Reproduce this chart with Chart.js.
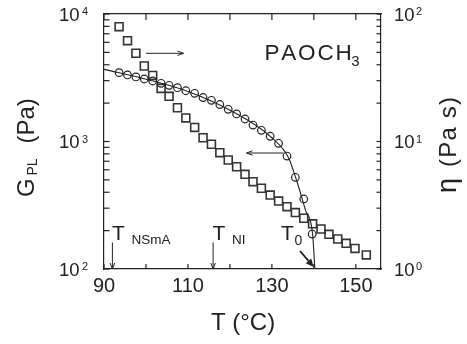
<!DOCTYPE html>
<html>
<head>
<meta charset="utf-8">
<script src="https://cdn.jsdelivr.net/npm/chart.js"></script>
<style>
  body{margin:0;background:#fff;}
</style>
</head>
<body>
<canvas id="myChart" width="467" height="344"></canvas>
<script>
// viscosity eta (Pa s), squares, right axis
const tempEta = [93.6, 95.6, 97.6, 99.6, 101.6, 103.6, 105.5, 107.5, 109.5, 111.6, 113.6, 115.6, 117.6, 119.6, 121.6,
                 123.6, 125.5, 127.5, 129.6, 131.6, 133.6, 135.6, 137.6, 139.7, 141.7, 143.6, 145.7, 147.7, 149.8, 152.5];
const eta = [79.5, 61.8, 49.2, 39.1, 33.0, 26.1, 22.6, 18.4, 15.3, 12.9, 10.7, 9.51, 8.17, 7.16, 6.34,
             5.53, 4.84, 4.30, 3.80, 3.41, 3.08, 2.77, 2.50, 2.26, 2.06, 1.87, 1.72, 1.59, 1.45, 1.29];

// plateau modulus G_PL (Pa), circles, left axis
const tempG = [93.6, 95.6, 97.6, 99.6, 101.6, 103.6, 105.5, 107.5, 109.5, 111.6, 113.6, 115.6,
               117.6, 119.6, 121.6, 123.6, 125.5, 127.5, 129.6, 131.6, 133.6, 135.6, 137.6, 139.6];
const gPL = [3467, 3325, 3208, 3092, 2983, 2860, 2760, 2643, 2500, 2387, 2213, 2104,
             1950, 1789, 1645, 1501, 1346, 1224, 1099, 968, 769, 524, 354, 188];

// fitted curve through G_PL
const fitT = [90, 100, 110, 120, 130, 134, 136, 138, 139.7, 140.24];
const fitG = [3680, 3080, 2470, 1760, 1070, 743, 481, 290, 188, 100];

// axes
const xTicks = [90, 100, 110, 120, 130, 140, 150];
const xLabels = [90, 110, 130, 150];
const leftExp = [2, 3, 4];
const rightExp = [0, 1, 2];

// transition temperatures
const tNSmA = 92, tNI = 116, t0 = 140.2;

const ink = '#222';
const fam = '"Liberation Sans", Arial, sans-serif';

function line(ctx, x1, y1, x2, y2) {
  ctx.beginPath();
  ctx.moveTo(x1, y1);
  ctx.lineTo(x2, y2);
  ctx.stroke();
}

// open arrow head for thin arrows, filled for the thick one
function arrow(ctx, x1, y1, x2, y2, len, half, width, filled) {
  const a = Math.atan2(y2 - y1, x2 - x1);
  const bx = x2 - len * Math.cos(a), by = y2 - len * Math.sin(a);
  const px = -Math.sin(a) * half, py = Math.cos(a) * half;
  ctx.lineWidth = width;
  if (filled) {
    line(ctx, x1, y1, bx, by);
    ctx.beginPath();
    ctx.moveTo(x2, y2);
    ctx.lineTo(bx + px, by + py);
    ctx.lineTo(bx - px, by - py);
    ctx.closePath();
    ctx.fill();
  } else {
    line(ctx, x1, y1, x2, y2);
    ctx.beginPath();
    ctx.moveTo(bx + px, by + py);
    ctx.lineTo(x2, y2);
    ctx.lineTo(bx - px, by - py);
    ctx.stroke();
  }
}

// text with manual letter spacing (left aligned when spacing is used), returns end x
function text(ctx, s, x, y, size, spacing) {
  ctx.font = size + 'px ' + fam;
  if (!spacing) {
    ctx.fillText(s, x, y);
    return x + ctx.measureText(s).width;
  }
  for (const ch of s) {
    ctx.fillText(ch, x, y);
    x += ctx.measureText(ch).width + spacing;
  }
  return x - spacing;
}

const decor = {
  id: 'decor',
  afterDraw(chart) {
    const ctx = chart.ctx;
    const {left, right, top, bottom} = chart.chartArea;
    const xs = chart.scales.x, yl = chart.scales.y, yr = chart.scales.y2;
    ctx.save();
    ctx.strokeStyle = ink;
    ctx.fillStyle = ink;
    ctx.lineWidth = 1.2;
    ctx.textBaseline = 'alphabetic';

    // inward ticks, bottom and top
    xTicks.forEach(v => {
      const px = xs.getPixelForValue(v);
      line(ctx, px, bottom, px, bottom - 5);
      line(ctx, px, top, px, top + 6);
    });
    // inward ticks, log axes
    [[yl, leftExp, left, 5.5], [yr, rightExp, right, -4.5]].forEach(([sc, exps, x0, len]) => {
      for (let i = 0; i < exps.length; i++) {
        const d = Math.pow(10, exps[i]);
        const ks = i < exps.length - 1 ? [1, 2, 3, 4, 5, 6, 7, 8, 9] : [1];
        ks.forEach(k => {
          const py = sc.getPixelForValue(d * k);
          line(ctx, x0, py, x0 + len, py);
        });
      }
    });

    // tick labels
    ctx.textAlign = 'center';
    xLabels.forEach(v => text(ctx, String(v), xs.getPixelForValue(v), bottom + 22.5, 20));
    ctx.textAlign = 'left';
    leftExp.forEach(e => {
      const py = yl.getPixelForValue(Math.pow(10, e));
      text(ctx, '10', left - 45, py + 6.6, 18.5);
      text(ctx, String(e), left - 22, py + 1.2, 11);
    });
    rightExp.forEach(e => {
      const py = yr.getPixelForValue(Math.pow(10, e));
      text(ctx, '10', right + 13, py + 6.6, 18.5);
      text(ctx, String(e), right + 35, py + 1.2, 11);
    });

    // axis titles
    ctx.textAlign = 'center';
    text(ctx, 'T (\u00B0C)', (left + right) / 2 + 0.5, bottom + 60.5, 24);

    ctx.textAlign = 'left';
    ctx.save();
    ctx.translate(34, 148.5);
    ctx.rotate(-Math.PI / 2);
    text(ctx, 'G', -48.5, 0, 24);
    text(ctx, 'PL', -27, 3, 14);
    text(ctx, '(Pa)', 5, 0, 24);
    ctx.restore();

    ctx.save();
    ctx.translate(456, 138);
    ctx.rotate(-Math.PI / 2);
    text(ctx, '\u03B7', -55, 0, 27);
    text(ctx, '(Pa s)', -29, 0, 24, 1.2);
    ctx.restore();

    // sample name
    const end = text(ctx, 'PAOCH', 264.5, 60, 22.5, 1.8);
    text(ctx, '3', end - 0.5, 65.5, 15);

    // series arrows
    arrow(ctx, 146, 53.3, 183.5, 53.3, 6, 2.2, 1, false);
    arrow(ctx, 283.5, 153, 246.5, 153, 6, 2.2, 1, false);

    // transition temperatures
    [[tNSmA, 'NSmA'], [tNI, 'NI']].forEach(([t, sub]) => {
      const px = xs.getPixelForValue(t);
      arrow(ctx, px, 242.5, px, bottom, 6, 2.3, 1, false);
      text(ctx, 'T', px - 0.5, 240, 21);
      text(ctx, sub, px + 19, 243.5, 13.5);
    });
    const p0 = xs.getPixelForValue(t0);
    text(ctx, 'T', 281, 240, 21);
    text(ctx, '0', 294.5, 244.5, 14);
    arrow(ctx, 300, 251, p0 - 1, bottom - 2, 8, 3.6, 1.8, true);

    ctx.restore();
  }
};

const ctx = document.getElementById('myChart');

new Chart(ctx, {
  type: 'scatter',
  data: {
    datasets: [{
      label: 'fit',
      data: fitT.map((t, i) => ({x: t, y: fitG[i]})),
      yAxisID: 'y',
      showLine: true,
      borderColor: ink,
      borderWidth: 1.1,
      pointRadius: 0,
      cubicInterpolationMode: 'monotone'
    }, {
      label: 'G_PL',
      data: tempG.map((t, i) => ({x: t, y: gPL[i]})),
      yAxisID: 'y',
      pointStyle: 'circle',
      pointRadius: 3.8,
      borderColor: ink,
      borderWidth: 1.2,
      backgroundColor: 'rgba(0,0,0,0)'
    }, {
      label: 'eta',
      data: tempEta.map((t, i) => ({x: t, y: eta[i]})),
      yAxisID: 'y2',
      pointStyle: 'rect',
      pointRadius: 5.6,
      borderColor: '#333',
      borderWidth: 1.6,
      backgroundColor: 'rgba(0,0,0,0)'
    }]
  },
  options: {
    responsive: false,
    animation: false,
    devicePixelRatio: 1,
    layout: {padding: {left: 104, right: 86, top: 14, bottom: 75}},
    plugins: {legend: {display: false}, tooltip: {enabled: false}},
    scales: {
      x: {
        type: 'linear', position: 'bottom', min: 90, max: 156,
        ticks: {display: false}, grid: {display: false, drawTicks: false, tickLength: 0},
        border: {display: true, color: ink, width: 1.2}
      },
      xTop: {
        type: 'linear', position: 'top', min: 90, max: 156,
        ticks: {display: false}, grid: {display: false, drawTicks: false, tickLength: 0},
        border: {display: true, color: ink, width: 1.2}
      },
      y: {
        type: 'logarithmic', position: 'left', min: 100, max: 10000,
        ticks: {display: false}, grid: {display: false, drawTicks: false, tickLength: 0},
        border: {display: true, color: ink, width: 1.2}
      },
      y2: {
        type: 'logarithmic', position: 'right', min: 1, max: 100,
        ticks: {display: false}, grid: {display: false, drawTicks: false, tickLength: 0},
        border: {display: true, color: ink, width: 1.2}
      }
    }
  },
  plugins: [decor]
});
</script>
</body>
</html>
